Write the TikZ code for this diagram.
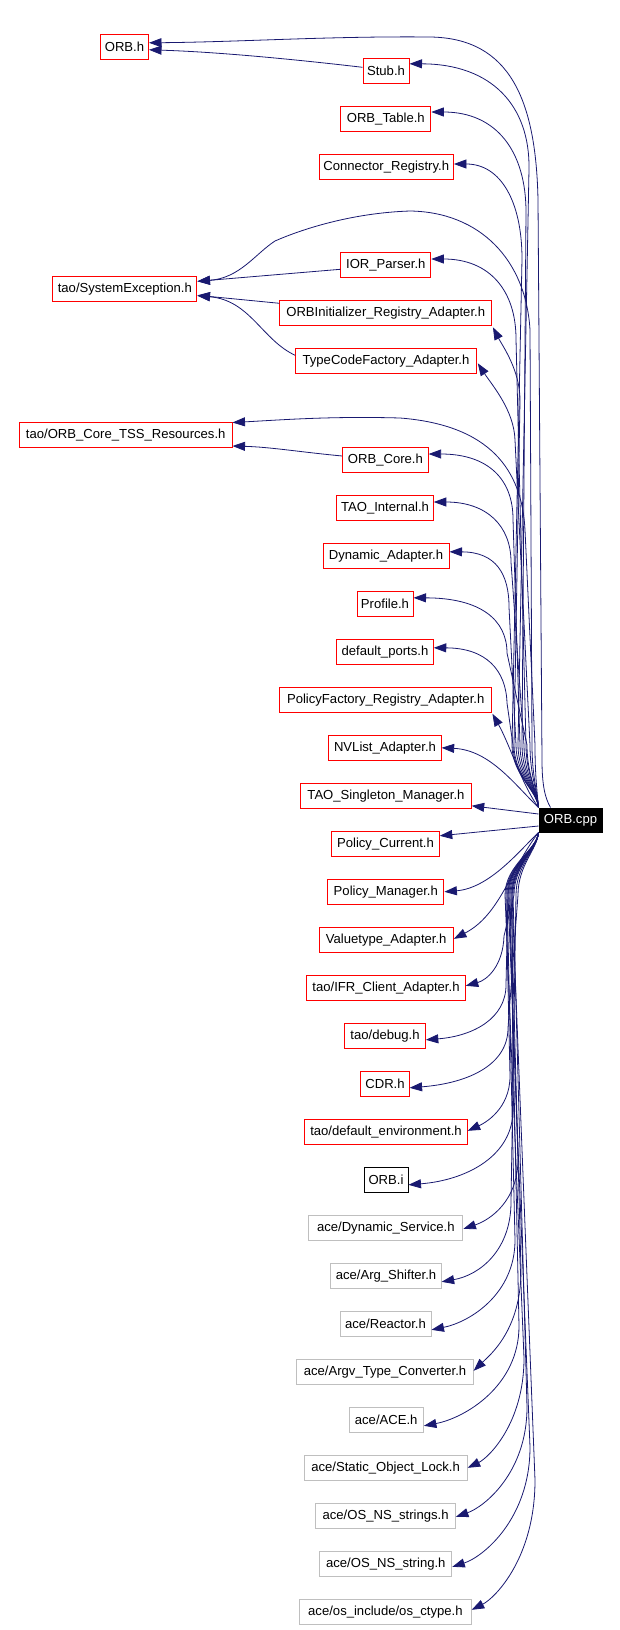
\documentclass[tikz,border=0pt]{standalone}
\usepackage{fontspec}
\setmainfont{Liberation Sans}
\usetikzlibrary{arrows.meta,calc}
\definecolor{edgeblue}{RGB}{25,25,112}
\definecolor{acegrey}{RGB}{191,191,191}
\begin{document}
\begin{tikzpicture}[x=1pt,y=-1pt,
  box/.style={draw=red,line width=1pt,minimum height=25pt,inner sep=0pt,font=\fontsize{13.1}{15}\selectfont},
  acebox/.style={box,draw=acegrey},
  plainbox/.style={box,draw=black},
  mainbox/.style={box,fill=black,draw=black,text=white,minimum height=24pt},
  edge/.style={draw=edgeblue,line width=0.8pt,-{Triangle[length=12.5pt,width=9pt]}}]
\useasboundingbox (0,0) rectangle (619,1630);
% left column
\node[box,minimum width=48] (orbh) at (124.5,46.8) {ORB.h};
\node[box,minimum width=144.3] (sysexc) at (124.8,289.3) {tao/SystemException.h};
\node[box,minimum width=212.6] (tss) at (125.7,435) {tao/ORB\_Core\_TSS\_Resources.h};
% right column
\node[box,minimum width=46] (stub) at (386,70.8) {Stub.h};
\node[box,minimum width=90] (orbtable) at (385.8,118.7) {ORB\_Table.h};
\node[box,minimum width=134.4] (connector) at (386.2,166.8) {Connector\_Registry.h};
\node[box,minimum width=90] (ior) at (385.8,265.3) {IOR\_Parser.h};
\node[box,minimum width=211.5] (orbinit) at (385.7,313.3) {ORBInitializer\_Registry\_Adapter.h};
\node[box,minimum width=180.6] (typecode) at (386,361.3) {TypeCodeFactory\_Adapter.h};
\node[box,minimum width=85.4] (orbcore) at (385.4,460) {ORB\_Core.h};
\node[box,minimum width=96.5] (taointernal) at (385,508) {TAO\_Internal.h};
\node[box,minimum width=126] (dynadapter) at (386,555.8) {Dynamic\_Adapter.h};
\node[box,minimum width=56] (profile) at (385,603.8) {Profile.h};
\node[box,minimum width=96.5] (defports) at (385,651.8) {default\_ports.h};
\node[box,minimum width=211.5] (polfactory) at (385.7,699.8) {PolicyFactory\_Registry\_Adapter.h};
\node[box,minimum width=112.3] (nvlist) at (385,747.8) {NVList\_Adapter.h};
\node[box,minimum width=170.4] (singleton) at (386,795.8) {TAO\_Singleton\_Manager.h};
\node[mainbox,minimum width=63] (cpp) at (570.5,820) {ORB.cpp};
\node[box,minimum width=107.5] (polcurrent) at (385.5,843.8) {Policy\_Current.h};
\node[box,minimum width=116.2] (polmanager) at (385.8,891.8) {Policy\_Manager.h};
\node[box,minimum width=134.4] (valuetype) at (386.2,939.8) {Valuetype\_Adapter.h};
\node[box,minimum width=158.5] (ifr) at (386,987.8) {tao/IFR\_Client\_Adapter.h};
\node[box,minimum width=80.6] (debug) at (385,1035.8) {tao/debug.h};
\node[box,minimum width=48.2] (cdr) at (385,1083.8) {CDR.h};
\node[box,minimum width=162.4] (defenv) at (386,1131.8) {tao/default\_environment.h};
\node[plainbox,minimum width=44] (orbi) at (386,1179.8) {ORB.i};
\node[acebox,minimum width=154.2] (dynservice) at (385.8,1227.8) {ace/Dynamic\_Service.h};
\node[acebox,minimum width=110.3] (argshifter) at (386,1275.8) {ace/Arg\_Shifter.h};
\node[acebox,minimum width=91] (reactor) at (385.5,1323.8) {ace/Reactor.h};
\node[acebox,minimum width=176.3] (argv) at (385,1371.8) {ace/Argv\_Type\_Converter.h};
\node[acebox,minimum width=74.4] (ace) at (386.2,1419.8) {ace/ACE.h};
\node[acebox,minimum width=163.2] (staticlock) at (385.6,1467.8) {ace/Static\_Object\_Lock.h};
\node[acebox,minimum width=139.6] (nsstrings) at (385.6,1515.8) {ace/OS\_NS\_strings.h};
\node[acebox,minimum width=132] (nsstring) at (385.8,1563.8) {ace/OS\_NS\_string.h};
\node[acebox,minimum width=171.6] (ctype) at (385.4,1611.8) {ace/os\_include/os\_ctype.h};

% edges between header nodes
\draw[edge] ($(stub.west)+(0,-3.5)$) .. controls (300,60) and (220,52) .. ($(orbh.east)+(0,3)$);
\draw[edge] ($(ior.west)+(0,4)$) -- ($(sysexc.east)+(0,-8)$);
\draw[edge] ($(orbinit.west)+(0,-10)$) -- ($(sysexc.east)+(0,6)$);
\draw[edge] ($(typecode.west)+(0,-6)$) .. controls (262,340) and (250,300) .. ($(sysexc.east)+(0,6.5)$);
\draw[edge] ($(orbcore.west)+(0,-4)$) .. controls (300,452) and (270,447) .. ($(tss.east)+(0,11)$);

% long edges from ORB.cpp
\draw[edge] ($(cpp.north west)+(12,0)$) .. controls (545,798) and (542,785) .. (542,760) -- (538,200)
  .. controls (536,100) and (510,38) .. (430,37) .. controls (330,36) and (240,42) .. ($(orbh.east)+(0,-4)$);
\draw[edge] (cpp.north west) .. controls (537,790) and (532,775) .. (532,745) -- (530,330)
  .. controls (526,260) and (480,212) .. (410,211) .. controls (350,213) and (300,230) .. (275,241)
  .. controls (255,254) and (240,278) .. ($(sysexc.east)+(0,-8)$);
\draw[edge] (cpp.north west) .. controls (537,790) and (535,775) .. (535,745) -- (525,530)
  .. controls (522,470) and (490,425) .. (400,418) .. controls (330,416) and (280,420) .. ($(tss.east)+(0,-12.5)$);

% upper edges from ORB.cpp
\draw[edge] (cpp.north west) .. controls (537,790) and (518,775) .. (518,745) -- (529,169) .. controls (530,106) and (492,64) .. ($(stub.east)+(0,-7)$);
\draw[edge] (cpp.north west) .. controls (537,790) and (522,775) .. (522,745) -- (526,212) .. controls (526,152) and (497,112) .. ($(orbtable.east)+(0,-6.7)$);
\draw[edge] (cpp.north west) .. controls (537,790) and (512,775) .. (512,745) -- (522,259) .. controls (522,202) and (501,164) .. ($(connector.east)+(0,-2.8)$);
\draw[edge] (cpp.north west) .. controls (537,790) and (526,775) .. (526,745) -- (516,339) .. controls (516,291) and (490,259) .. ($(ior.east)+(0,-6.3)$);
\draw[edge] (cpp.north west) .. controls (537,790) and (514,775) .. (514,745) -- (520,400) .. controls (520,370) and (502,345) .. ($(orbinit.south east)+(1,1)$);
\draw[edge] (cpp.north west) .. controls (537,790) and (530,775) .. (530,745) -- (515,440) .. controls (514,410) and (492,385) .. ($(typecode.east)+(1,2)$);
\draw[edge] (cpp.north west) .. controls (537,790) and (520,775) .. (520,745) -- (513,519) .. controls (513,480) and (489,454) .. ($(orbcore.east)+(0,-6)$);
\draw[edge] (cpp.north west) .. controls (537,790) and (524,775) .. (524,745) -- (511,562) .. controls (511,526) and (487,502) .. ($(taointernal.east)+(0,-6)$);
\draw[edge] (cpp.north west) .. controls (537,790) and (516,775) .. (516,745) -- (509,607) .. controls (509,574) and (496,552) .. ($(dynadapter.east)+(0,-4)$);
\draw[edge] (cpp.north west) .. controls (537,790) and (527,775) .. (527,745) -- (507,653) .. controls (507,620) and (481,598) .. ($(profile.east)+(0,-6)$);
\draw[edge] (cpp.north west) .. controls (537,790) and (513,775) .. (513,745) -- (507,703) .. controls (506,670) and (486,648) .. ($(defports.east)+(0,-4)$);
\draw[edge] (cpp.north west) .. controls (522,785) and (510,745) .. ($(polfactory.south east)+(0.5,1)$);
\draw[edge] (cpp.north west) .. controls (515,785) and (490,750) .. (nvlist.east);
\draw[edge] ($(cpp.west)+(0,-6)$) -- ($(singleton.east)+(0,10)$);

% lower edges from ORB.cpp
\draw[edge] ($(cpp.west)+(0,6)$) -- ($(polcurrent.east)+(0,-8)$);
\draw[edge] (cpp.south west) .. controls (520,850) and (490,888) .. (polmanager.east);
\draw[edge] (cpp.south west) .. controls (510,870) and (500,915) .. ($(valuetype.east)+(0,-1)$);
\draw[edge] (cpp.south west) .. controls (537,850) and (514,865) .. (514,895) -- (504,936) .. controls (503,966) and (487,980) .. ($(ifr.east)+(0,-2)$);
\draw[edge] (cpp.south west) .. controls (537,850) and (508,865) .. (508,895) -- (506,985) .. controls (506,1018) and (474,1036) .. ($(debug.east)+(0,4)$);
\draw[edge] (cpp.south west) .. controls (537,850) and (518,865) .. (518,895) -- (508,1028) .. controls (508,1064) and (470,1083) .. ($(cdr.east)+(0,4)$);
\draw[edge] (cpp.south west) .. controls (537,850) and (506,865) .. (506,895) -- (510,1076) .. controls (510,1109) and (485,1123) .. ($(defenv.east)+(0,-1)$);
\draw[edge] (cpp.south west) .. controls (537,850) and (512,865) .. (512,895) -- (513,1110) .. controls (513,1155) and (468,1180) .. ($(orbi.east)+(0,5)$);
\draw[edge] (cpp.south west) .. controls (537,850) and (509,865) .. (509,895) -- (518,1159) .. controls (518,1201) and (490,1220) .. ($(dynservice.east)+(0,1)$);
\draw[edge] (cpp.south west) .. controls (537,850) and (516,865) .. (516,895) -- (511,1202) .. controls (511,1250) and (480,1275) .. ($(argshifter.east)+(0,6)$);
\draw[edge] (cpp.south west) .. controls (537,850) and (507,865) .. (507,895) -- (515,1240) .. controls (515,1294) and (470,1322) .. ($(reactor.east)+(0,6)$);
\draw[edge] (cpp.south west) .. controls (537,850) and (511,865) .. (511,895) -- (521,1270) .. controls (521,1330) and (490,1355) .. ($(argv.east)+(0,-1)$);
\draw[edge] (cpp.south west) .. controls (537,850) and (510,865) .. (510,895) -- (519,1326) .. controls (519,1386) and (465,1418) .. ($(ace.east)+(0,6)$);
\draw[edge] (cpp.south west) .. controls (537,850) and (505,865) .. (505,895) -- (524,1358) .. controls (524,1424) and (488,1458) .. (staticlock.east);
\draw[edge] (cpp.south west) .. controls (537,850) and (513,865) .. (513,895) -- (527,1407) .. controls (527,1473) and (484,1507) .. ($(nsstrings.east)+(0,1)$);
\draw[edge] (cpp.south west) .. controls (537,850) and (508,865) .. (508,895) -- (530,1447) .. controls (530,1519) and (483,1557) .. ($(nsstring.east)+(0,3)$);
\draw[edge] (cpp.south west) .. controls (537,850) and (512,865) .. (512,895) -- (535,1480) .. controls (535,1558) and (495,1598) .. ($(ctype.east)+(0,-2)$);
\end{tikzpicture}
\end{document}
